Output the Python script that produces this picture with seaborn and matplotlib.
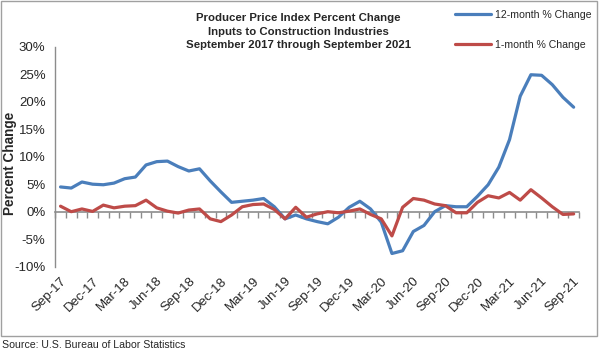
import matplotlib
matplotlib.use("Agg")
import matplotlib.pyplot as plt
import numpy as np
import pandas as pd
import seaborn as sns
from matplotlib.patches import Rectangle

# Monthly values, Sep 2017 .. Sep 2021 (49 months)
months = pd.date_range("2017-09-01", periods=49, freq="MS").strftime("%b-%y").tolist()

pct_12m = [4.5, 4.3, 5.4, 5.0, 4.9, 5.2, 6.0, 6.3, 8.5, 9.1,
           9.2, 8.2, 7.4, 7.8, 5.6, 3.6, 1.7, 1.9, 2.1, 2.4,
           0.9, -1.3, -0.6, -1.3, -1.8, -2.2, -1.0, 0.8, 1.9, 0.5,
           -1.9, -7.6, -7.1, -3.6, -2.5, 0.0, 1.1, 0.9, 0.9, 2.8,
           4.9, 8.1, 13.1, 21.0, 24.9, 24.8, 23.1, 20.8, 19.0]

pct_1m = [1.0, 0.0, 0.5, 0.05, 1.2, 0.7, 1.0, 1.1, 2.1, 0.7,
          0.1, -0.25, 0.3, 0.5, -1.3, -1.8, -0.6, 0.9, 1.3, 1.4,
          0.4, -1.3, 0.8, -1.0, -0.4, 0.0, -0.2, 0.1, 0.5, -0.5,
          -1.3, -4.4, 0.8, 2.4, 2.1, 1.4, 1.1, -0.2, -0.2, 1.7,
          2.9, 2.5, 3.5, 2.1, 4.0, 2.5, 0.9, -0.5, -0.4]

series_names = ["12-month % Change", "1-month % Change"]
tick_labels = ["Sep-17", "Dec-17", "Mar-18", "Jun-18", "Sep-18", "Dec-18",
               "Mar-19", "Jun-19", "Sep-19", "Dec-19", "Mar-20", "Jun-20",
               "Sep-20", "Dec-20", "Mar-21", "Jun-21", "Sep-21"]
y_ticks = [-10, -5, 0, 5, 10, 15, 20, 25, 30]

df = pd.DataFrame({
    "idx": list(range(len(months))) * 2,
    "month": months * 2,
    "value": pct_12m + pct_1m,
    "series": [series_names[0]] * len(months) + [series_names[1]] * len(months),
})

sns.set_style("white")
plt.rcParams["font.family"] = ["Liberation Sans", "DejaVu Sans"]

grey = "#8c8c8c"
fig = plt.figure(figsize=(6, 3.54), dpi=100)
ax = fig.add_axes([0.092, 0.2466, 0.873, 0.6215])

sns.lineplot(data=df, x="idx", y="value", hue="series",
             palette=["#4a7ebb", "#be4b48"], linewidth=2.3, ax=ax)

ax.set_xlim(-0.5, len(months) - 0.5)
ax.set_ylim(-10, 30)
ax.set_yticks(y_ticks)
ax.set_yticklabels([f"{v}%" for v in y_ticks], fontsize=9.5)
ax.set_xticks(range(0, len(months), 3))
ax.set_xticklabels(tick_labels, rotation=45, ha="right",
                   rotation_mode="anchor", fontsize=9.5)
ax.tick_params(axis="x", length=0, pad=6)
ax.tick_params(axis="y", length=4, color=grey, direction="out", width=1, pad=3)
ax.set_xlabel("")
ax.set_ylabel("Percent Change", fontsize=9.8, fontweight="bold")
ax.yaxis.set_label_coords(-0.072, 0.47)
for s in ["top", "right", "bottom"]:
    ax.spines[s].set_visible(False)
ax.spines["left"].set_color(grey)
ax.spines["left"].set_linewidth(1)

# category axis crossing at 0%
zero_axis = ax.secondary_xaxis(0.25)
zero_axis.set_xticks(np.arange(-0.5, len(months), 1))
zero_axis.set_xticklabels([])
zero_axis.tick_params(length=4, color=grey, width=1)
zero_axis.spines["bottom"].set_color(grey)
zero_axis.spines["top"].set_color(grey)
zero_axis.spines["bottom"].set_linewidth(1.2)

sns.move_legend(ax, loc="upper left", bbox_to_anchor=(0.758, 0.972),
                bbox_transform=fig.transFigure, frameon=False, title=None,
                fontsize=7.6, handlelength=3.4, handletextpad=0.4,
                labelspacing=1.9, borderpad=0, borderaxespad=0)

fig.text(0.497, 0.911,
         "Producer Price Index Percent Change\nInputs to Construction Industries\n"
         "September 2017 through September 2021",
         ha="center", va="center", fontsize=8.2, fontweight="bold", linespacing=1.38)

fig.text(0.004, 0.025, "Source: U.S. Bureau of Labor Statistics",
         ha="left", va="center", fontsize=7.6)

fig.patches.append(Rectangle((0.002, 0.051), 0.993, 0.946, transform=fig.transFigure,
                             fill=False, edgecolor="#a0a0a0", linewidth=1))

fig.savefig("out.png", dpi=100)
